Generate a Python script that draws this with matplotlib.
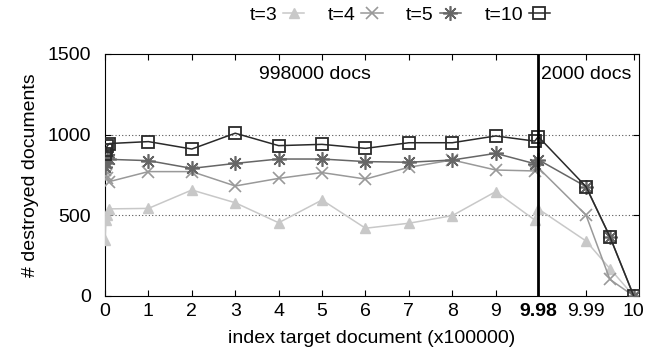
import numpy as np
import matplotlib
matplotlib.use("Agg")
import matplotlib.pyplot as plt

plt.rcParams['font.family'] = ['Liberation Sans', 'DejaVu Sans']

# index of target document (x100000), clustered samples near 0 and near 9.98
x_vals = [0, 0.02, 0.05, 0.1, 1, 2, 3, 4, 5, 6, 7, 8, 9, 9.9, 9.98, 9.99, 9.995, 10]

t3 = [350, 470, 500, 540, 543, 657, 578, 454, 595, 420, 451, 498, 647, 471, 540, 341, 170, 0]
t4 = [780, 750, 730, 709, 771, 771, 682, 729, 765, 725, 798, 843, 781, 775, 795, 502, 103, 0]
t5 = [800, 825, 860, 847, 839, 791, 822, 849, 849, 833, 829, 843, 884, 820, 845, 678, 368, 0]
t10 = [880, 905, 930, 945, 957, 911, 1009, 932, 940, 915, 950, 950, 992, 960, 988, 678, 368, 0]

series_labels = ['t=3', 't=4', 't=5', 't=10']
tick_vals = [0, 1, 2, 3, 4, 5, 6, 7, 8, 9, 9.98, 9.99, 10]
tick_labels = ['0', '1', '2', '3', '4', '5', '6', '7', '8', '9', '9.98', '9.99', '10']

SPLIT = 9.98
STRETCH = 110.0
FS = 14


def forward(x):
    x = np.asarray(x, dtype=float)
    return np.where(x <= SPLIT, x, SPLIT + (x - SPLIT) * STRETCH)


def inverse(y):
    y = np.asarray(y, dtype=float)
    return np.where(y <= SPLIT, y, SPLIT + (y - SPLIT) / STRETCH)


fig = plt.figure(figsize=(6.51, 3.57), dpi=100)
ax = fig.add_axes([105 / 651, 1 - 296 / 357, (639 - 105) / 651, (296 - 54) / 357])
ax.set_xscale('function', functions=(forward, inverse))

styles = [
    dict(color='#c8c8c8', marker='^', ms=7.5, mec='#c8c8c8', mfc='#c8c8c8'),
    dict(color='#999999', marker='x', ms=8.5, mew=1.2),
    dict(color='#666666', marker=(8, 2, 0), ms=10.5, mew=1.2),
    dict(color='#2a2a2a', marker='s', ms=8.5, mfc='none', mew=1.3),
]
for ys, lab, st in zip([t3, t4, t5, t10], series_labels, styles):
    ax.plot(x_vals, ys, lw=1.1, label=lab, zorder=3, **st)

ax.axvline(SPLIT, color='black', lw=2, zorder=4)
for gy in [500, 1000]:
    ax.axhline(gy, color='#555555', lw=0.8, ls=(0, (1, 2)), zorder=1)

ax.set_xlim(0, 10.0011)
ax.set_ylim(0, 1500)
ax.set_xticks(tick_vals)
ax.set_xticklabels(tick_labels)
ax.get_xticklabels()[10].set_fontweight('bold')
ax.set_yticks([0, 500, 1000, 1500])
ax.tick_params(direction='in', top=True, right=True, length=4, labelsize=FS)
ax.tick_params(axis='x', pad=5)
ax.tick_params(axis='y', pad=10)
ax.minorticks_off()

ax.set_xlabel('index target document (x100000)', fontsize=FS, labelpad=7)
ax.set_ylabel('# destroyed documents', fontsize=FS, labelpad=6)

ax.text(4.84, 1370, '998000 docs', fontsize=FS, ha='center', va='center')
ax.annotate('2000 docs', xy=(SPLIT, 1370), xytext=(2, 0), textcoords='offset points',
            fontsize=FS, ha='left', va='center')

fig.legend(loc='center', bbox_to_anchor=(0.614, 0.958), ncol=4, frameon=False,
           markerfirst=False, handlelength=1.1, columnspacing=1.2, handletextpad=0.3,
           fontsize=FS)

fig.savefig('out.png', dpi=100)
